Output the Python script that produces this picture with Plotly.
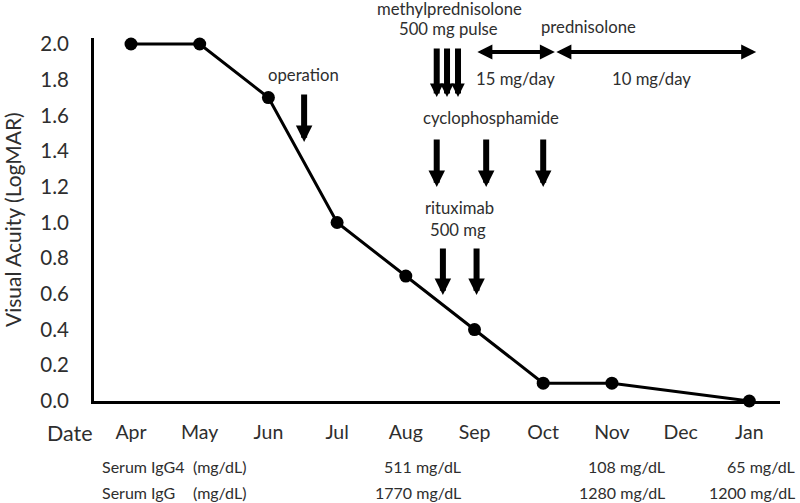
import plotly.graph_objects as go

# ---- data ----
months = ["Apr", "May", "Jun", "Jul", "Aug", "Sep", "Oct", "Nov", "Dec", "Jan"]
visit_months = ["Apr", "May", "Jun", "Jul", "Aug", "Sep", "Oct", "Nov", "Jan"]
logmar = [2.0, 2.0, 1.7, 1.0, 0.7, 0.4, 0.1, 0.1, 0.0]
yticks = [0.0, 0.2, 0.4, 0.6, 0.8, 1.0, 1.2, 1.4, 1.6, 1.8, 2.0]

# treatment events (in month-index units, 0 = Apr)
operation_t = [2.52]
mpsl_pulse_t = [4.45, 4.60, 4.76]
cyclophosphamide_t = [4.45, 5.17, 6.0]
rituximab_t = [4.54, 5.03]
pred_15_span = [5.02, 6.17]
pred_10_span = [6.17, 9.10]

igg4_labels = ["511 mg/dL", "108 mg/dL", "65 mg/dL"]
igg_labels = ["1770 mg/dL", "1280 mg/dL", "1200 mg/dL"]

# ---- layout geometry ----
L, R, T, B = 94, 780, 38, 401
W, H = 800, 503
FONT = "Lato, Open Sans, sans-serif"
TXT = "#2e2e2e"
MONTH_PX = 68.7  # pixel spacing of one month
X0_PX = 131      # pixel of Apr

def py(p):  # pixel y -> paper y
    return (B - p) / (B - T)

def pxp(p):  # pixel x -> paper x
    return (p - L) / (R - L)

def mx(p):  # pixel x -> month index
    return (p - X0_PX) / MONTH_PX

idx = {m: i for i, m in enumerate(months)}
xs = [idx[m] for m in visit_months]

fig = go.Figure()
fig.add_trace(go.Scatter(
    x=xs, y=logmar, mode="lines+markers",
    line=dict(color="black", width=3),
    marker=dict(color="black", size=13),
    cliponaxis=False, showlegend=False,
))

ann = []

def text(x, y, s, size=16.7, xref="x", xanchor="center"):
    ann.append(dict(x=x, y=y, xref=xref, yref="paper", text=s, showarrow=False,
                    font=dict(family=FONT, size=size, color=TXT),
                    xanchor=xanchor, yanchor="middle"))

def down_arrow(x, tip, tail, size=0.55):
    ann.append(dict(x=x, y=py(tip), xref="x", yref="paper", text="",
                    showarrow=True, ax=0, ay=-(tip - tail), axref="pixel", ayref="pixel",
                    arrowhead=2, arrowsize=size, arrowwidth=6, arrowcolor="black",
                    standoff=0, startstandoff=0))

def double_arrow(x0, x1, y):
    ann.append(dict(x=x1, y=py(y), xref="x", yref="paper", text="",
                    showarrow=True, ax=x0, ay=0, axref="x", ayref="pixel",
                    arrowhead=2, startarrowhead=2, arrowside="end+start",
                    arrowsize=0.75, startarrowsize=0.75, arrowwidth=4,
                    arrowcolor="black", standoff=0, startstandoff=0))

# operation
text(mx(303), py(75), "operation")
for t in operation_t:
    down_arrow(t, 142, 93)

# methylprednisolone pulse
text(mx(449), py(9), "methylprednisolone")
text(mx(448), py(29), "500 mg pulse")
for t in mpsl_pulse_t:
    down_arrow(t, 97, 47, size=0.45)

# prednisolone
text(mx(588), py(27), "prednisolone")
double_arrow(pred_15_span[0], pred_15_span[1], 52)
double_arrow(pred_10_span[0], pred_10_span[1], 52)
text(mx(515), py(79), "15 mg/day")
text(mx(651), py(79), "10 mg/day")

# cyclophosphamide
text(mx(491), py(118), "cyclophosphamide")
for t in cyclophosphamide_t:
    down_arrow(t, 187, 138)

# rituximab
text(mx(459), py(208), "rituximab")
text(mx(458), py(230), "500 mg")
for t in rituximab_t:
    down_arrow(t, 295, 247)

# Date label
text(pxp(45), py(433), "Date", size=21.5, xref="paper", xanchor="left")

# Serum rows
SF = 16
text(pxp(100), py(466), "Serum IgG4", size=SF, xref="paper", xanchor="left")
text(pxp(100), py(492), "Serum IgG", size=SF, xref="paper", xanchor="left")
text(pxp(191), py(466), "(mg/dL)", size=SF, xref="paper", xanchor="left")
text(pxp(191), py(492), "(mg/dL)", size=SF, xref="paper", xanchor="left")
right_edges = [463, 667, 797]
for lab, r in zip(igg4_labels, right_edges):
    text(pxp(r), py(466), lab, size=SF, xref="paper", xanchor="right")
for lab, r in zip(igg_labels, right_edges):
    text(pxp(r), py(492), lab, size=SF, xref="paper", xanchor="right")

# y-axis title
ann.append(dict(x=pxp(13), y=py(220), xref="paper", yref="paper",
                text="Visual Acuity (LogMAR)", showarrow=False, textangle=-90,
                font=dict(family=FONT, size=21, color=TXT),
                xanchor="center", yanchor="middle"))

fig.update_layout(
    width=W, height=H,
    margin=dict(l=L, r=W - R, t=T, b=H - B, pad=0),
    paper_bgcolor="white", plot_bgcolor="white",
    annotations=ann,
    xaxis=dict(range=[mx(L), mx(R)], tickvals=list(range(len(months))), ticktext=months,
               showgrid=False, zeroline=False, showline=True, linecolor="black",
               linewidth=3, ticks="", ticklabelstandoff=12,
               tickfont=dict(family=FONT, size=19.5, color=TXT), fixedrange=True),
    yaxis=dict(range=[0, (B - T) / 178.5], tickvals=yticks,
               ticktext=[f"{v:.1f}" for v in yticks],
               showgrid=False, zeroline=False, showline=True, linecolor="black",
               linewidth=3, ticks="", ticklabelstandoff=18,
               tickfont=dict(family=FONT, size=20.5, color=TXT), fixedrange=True),
)

fig.write_html("out.html", config={"displayModeBar": False},
               post_script="document.body.style.margin='0';document.body.style.overflow='hidden';")
